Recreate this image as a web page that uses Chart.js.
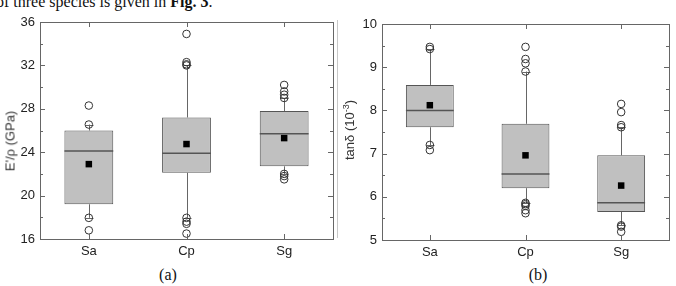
<!DOCTYPE html>
<html>
<head>
<meta charset="utf-8">
<script src="https://cdn.jsdelivr.net/npm/chart.js@4.4.1/dist/chart.umd.min.js"></script>
<style>
    body { margin: 0; width: 676px; height: 286px; background: #fff; position: relative; overflow: hidden; font-family: "Liberation Sans", Arial, sans-serif; }
    .pane { position: absolute; top: 0; height: 262px; }
    #paneA { left: 0; width: 338px; }
    #paneB { left: 338px; width: 336px; }
    .ytitle { position: absolute; transform: translate(-50%, -50%) rotate(-90deg); white-space: nowrap; font-size: 13px; color: #333; }
    .ytitle sup { font-size: 9px; }
    .label { position: absolute; font-family: "Liberation Serif", "Times New Roman", serif; font-size: 16px; color: #111; transform: translateX(-50%); white-space: nowrap; }
    #topText { position: absolute; left: -4px; top: -6px; font-family: "Liberation Serif", "Times New Roman", serif; font-size: 16px; line-height: 16px; color: #111; white-space: nowrap; }
    #divider { position: absolute; left: 337px; top: 20px; width: 1px; height: 218px; background: #c8c8c8; }
</style>
</head>
<body>
<div id="topText">of three species is given in <b>Fig. 3</b>.</div>
<div class="pane" id="paneA"><canvas id="chartA"></canvas></div>
<div class="pane" id="paneB"><canvas id="chartB"></canvas></div>
<div id="divider"></div>
<div class="ytitle" style="left:10px; top:141px;">E'/ρ (GPa)</div>
<div class="ytitle" style="left:349px; top:130px;">tanδ (10<sup>-3</sup>)</div>
<div class="label" style="left:168px; top:266px;">(a)</div>
<div class="label" style="left:538px; top:266px;">(b)</div>

<script>
const categories = ['Sa', 'Cp', 'Sg'];

// panel (a): E'/rho (GPa)
const modQ1 = [19.2, 22.1, 22.7];
const modQ3 = [26.0, 27.2, 27.8];
const modMedian = [24.1, 23.9, 25.7];
const modMean = [22.9, 24.75, 25.3];
const modLow = [17.95, 17.95, 22.0];
const modHigh = [26.55, 32.0, 29.0];
const modOutliers = [
    [28.3, 26.55, 17.95, 16.8],
    [34.9, 32.3, 32.1, 32.0, 17.95, 17.6, 17.4, 16.5],
    [30.2, 29.6, 29.3, 29.0, 22.0, 21.8, 21.5]
];
const modTicks = [16, 20, 24, 28, 32, 36];

// panel (b): tan delta (10^-3)
const tanQ1 = [7.61, 6.2, 5.65];
const tanQ3 = [8.59, 7.69, 6.96];
const tanMedian = [8.0, 6.53, 5.86];
const tanMean = [8.12, 6.96, 6.26];
const tanLow = [7.2, 5.86, 5.34];
const tanHigh = [9.41, 8.9, 7.61];
const tanOutliers = [
    [9.47, 9.42, 7.2, 7.08],
    [9.47, 9.19, 9.09, 8.9, 5.86, 5.83, 5.79, 5.69, 5.62],
    [8.15, 7.96, 7.66, 7.61, 5.34, 5.31, 5.19]
];
const tanTicks = [5, 6, 7, 8, 9, 10];

// whiskers, caps, medians and the framed axes with inward ticks
function boxParts(stats, ticks) {
    return {
        id: 'boxParts',
        beforeDatasetsDraw(chart) {
            const { ctx, scales: { x, y } } = chart;
            ctx.save();
            ctx.strokeStyle = '#666';
            ctx.lineWidth = 1;
            categories.forEach((c, i) => {
                const px = Math.round(x.getPixelForValue(i)) + 0.5;
                const yHi = y.getPixelForValue(stats.high[i]);
                const yLo = y.getPixelForValue(stats.low[i]);
                ctx.beginPath();
                ctx.moveTo(px, y.getPixelForValue(stats.q3[i]));
                ctx.lineTo(px, yHi);
                ctx.moveTo(px, y.getPixelForValue(stats.q1[i]));
                ctx.lineTo(px, yLo);
                ctx.moveTo(px - 4, Math.round(yHi) + 0.5);
                ctx.lineTo(px + 4, Math.round(yHi) + 0.5);
                ctx.moveTo(px - 4, Math.round(yLo) + 0.5);
                ctx.lineTo(px + 4, Math.round(yLo) + 0.5);
                ctx.stroke();
            });
            ctx.restore();
        },
        afterDatasetDraw(chart, args) {
            if (args.meta.type !== 'bar') return;
            const { ctx, scales: { y } } = chart;
            ctx.save();
            ctx.strokeStyle = '#555';
            ctx.lineWidth = 1.5;
            args.meta.data.forEach((bar, i) => {
                const { x, width } = bar.getProps(['x', 'width'], true);
                const py = y.getPixelForValue(stats.median[i]);
                ctx.beginPath();
                ctx.moveTo(x - width / 2, py);
                ctx.lineTo(x + width / 2, py);
                ctx.stroke();
            });
            ctx.restore();
        },
        afterDraw(chart) {
            const { ctx, chartArea: a, scales: { x, y } } = chart;
            ctx.save();
            ctx.strokeStyle = '#666';
            ctx.lineWidth = 1;
            ctx.strokeRect(Math.round(a.left) + 0.5, Math.round(a.top) + 0.5, Math.round(a.right - a.left), Math.round(a.bottom - a.top));
            ctx.beginPath();
            const step = ticks[1] - ticks[0];
            ticks.forEach((t, k) => {
                const py = Math.round(y.getPixelForValue(t)) + 0.5;
                ctx.moveTo(a.left, py); ctx.lineTo(a.left + 5, py);
                ctx.moveTo(a.right, py); ctx.lineTo(a.right - 5, py);
                if (k < ticks.length - 1) {
                    const pm = Math.round(y.getPixelForValue(t + step / 2)) + 0.5;
                    ctx.moveTo(a.left, pm); ctx.lineTo(a.left + 3, pm);
                    ctx.moveTo(a.right, pm); ctx.lineTo(a.right - 3, pm);
                }
            });
            categories.forEach((c, i) => {
                const px = Math.round(x.getPixelForValue(i)) + 0.5;
                ctx.moveTo(px, a.top); ctx.lineTo(px, a.top + 5);
                ctx.moveTo(px, a.bottom); ctx.lineTo(px, a.bottom - 5);
            });
            ctx.stroke();
            ctx.restore();
        }
    };
}

function makeChart(id, stats, ticks, box) {
    const boxes = categories.map((c, i) => ({ x: i, y: [stats.q1[i], stats.q3[i]] }));
    const means = categories.map((c, i) => ({ x: i, y: stats.mean[i] }));
    const outs = [];
    categories.forEach((c, i) => stats.outliers[i].forEach(v => outs.push({ x: i, y: v })));

    const tickFont = { family: '"Liberation Sans", Arial, sans-serif', size: 13 };

    return new Chart(document.getElementById(id), {
        type: 'bar',
        data: {
            datasets: [
                {
                    type: 'scatter',
                    data: means,
                    pointStyle: 'rect',
                    pointRadius: 4.6,
                    backgroundColor: '#000',
                    borderColor: '#000',
                    borderWidth: 0
                },
                {
                    type: 'scatter',
                    data: outs,
                    pointStyle: 'circle',
                    pointRadius: 3.8,
                    backgroundColor: 'rgba(255,255,255,0)',
                    borderColor: '#333',
                    borderWidth: 1
                },
                {
                    type: 'bar',
                    data: boxes,
                    backgroundColor: '#c0c0c0',
                    borderColor: '#555',
                    borderWidth: 1,
                    borderSkipped: false,
                    barPercentage: 0.5,
                    categoryPercentage: 1
                }
            ]
        },
        options: {
            responsive: true,
            maintainAspectRatio: false,
            animation: false,
            layout: { padding: { top: box.top, right: box.right, left: 0, bottom: 0 } },
            plugins: { legend: { display: false }, tooltip: { enabled: false } },
            scales: {
                x: {
                    type: 'linear',
                    min: -0.5,
                    max: 2.5,
                    offset: false,
                    grid: { display: false, drawTicks: false, tickLength: 0 },
                    border: { display: false },
                    afterBuildTicks: s => { s.ticks = categories.map((c, i) => ({ value: i })); },
                    afterFit: s => { s.height = box.xHeight; },
                    ticks: {
                        color: '#222',
                        font: tickFont,
                        padding: 5,
                        maxRotation: 0,
                        callback: v => categories[v]
                    }
                },
                y: {
                    min: ticks[0],
                    max: ticks[ticks.length - 1],
                    grid: { display: false, drawTicks: false, tickLength: 0 },
                    border: { display: false },
                    afterBuildTicks: s => { s.ticks = ticks.map(v => ({ value: v })); },
                    afterFit: s => { s.width = box.yWidth; },
                    ticks: { color: '#222', font: tickFont, padding: 5 }
                }
            }
        },
        plugins: [boxParts(stats, ticks)]
    });
}

makeChart('chartA', {
    q1: modQ1, q3: modQ3, median: modMedian, mean: modMean,
    low: modLow, high: modHigh, outliers: modOutliers
}, modTicks, { top: 22, right: 4, yWidth: 40, xHeight: 23 });

makeChart('chartB', {
    q1: tanQ1, q3: tanQ3, median: tanMedian, mean: tanMean,
    low: tanLow, high: tanHigh, outliers: tanOutliers
}, tanTicks, { top: 24, right: 4, yWidth: 44, xHeight: 22 });
</script>
</body>
</html>
